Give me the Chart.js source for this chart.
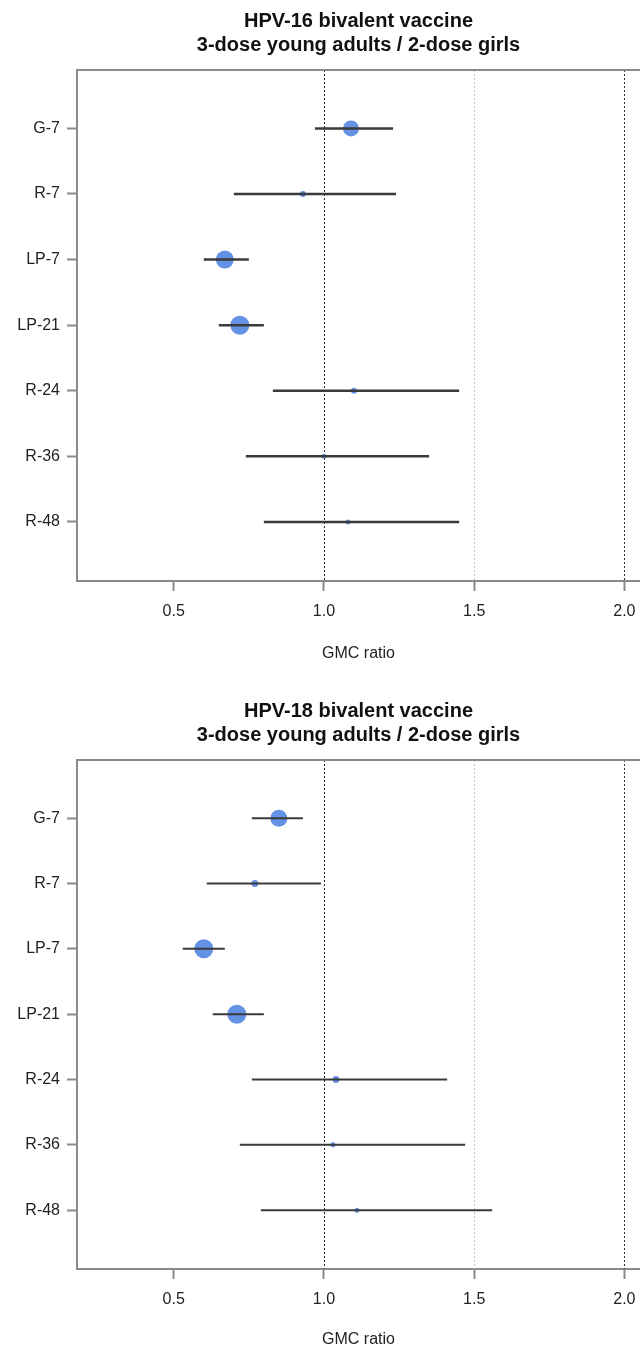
<!DOCTYPE html>
<html>
<head>
<meta charset="utf-8">
<script src="https://cdn.jsdelivr.net/npm/chart.js@4"></script>
<style>
  body { margin: 0; background: #fff; }
  canvas { display: block; }
</style>
</head>
<body>
<canvas id="hpv16Chart" width="640" height="680"></canvas>
<canvas id="hpv18Chart" width="640" height="669"></canvas>
<script>
const CATEGORIES = ["G-7", "R-7", "LP-7", "LP-21", "R-24", "R-36", "R-48"];
const X_TICKS = [0.5, 1.0, 1.5, 2.0];
const REF_LINES = [1.0, 1.5, 2.0];

// GMC ratio with 95% CI
const hpv16Ratio = [1.09, 0.93, 0.67, 0.72, 1.10, 1.00, 1.08];
const hpv16Lower = [0.97, 0.70, 0.60, 0.65, 0.83, 0.74, 0.80];
const hpv16Upper = [1.23, 1.24, 0.75, 0.80, 1.45, 1.35, 1.45];

const hpv18Ratio = [0.85, 0.77, 0.60, 0.71, 1.04, 1.03, 1.11];
const hpv18Lower = [0.76, 0.61, 0.53, 0.63, 0.76, 0.72, 0.79];
const hpv18Upper = [0.93, 0.99, 0.67, 0.80, 1.41, 1.47, 1.56];

// marker radius (study weight) in px
const hpv16Radius = [8, 3, 9, 9.5, 3, 2.5, 2.5];
const hpv18Radius = [8.5, 3.5, 9.5, 9.5, 3.5, 2.5, 2.5];

const AXIS_GRAY = "#8a8a8a";
const REF_COLORS = ["#222", "#c4c4c4", "#333"];

Chart.defaults.font.family = "'Liberation Sans', Arial, sans-serif";
Chart.defaults.color = "#222";

const frameAndRefLines = {
  id: "frameAndRefLines",
  beforeDatasetsDraw(chart) {
    const { ctx, chartArea, scales } = chart;
    ctx.save();
    ctx.lineWidth = 1;
    ctx.setLineDash([2, 2]);
    REF_LINES.forEach((v, i) => {
      const px = Math.round(scales.x.getPixelForValue(v)) + 0.5;
      ctx.strokeStyle = REF_COLORS[i];
      ctx.beginPath();
      ctx.moveTo(px, chartArea.top);
      ctx.lineTo(px, chartArea.bottom);
      ctx.stroke();
    });
    // top edge of the box
    ctx.setLineDash([]);
    ctx.lineWidth = 2;
    ctx.strokeStyle = AXIS_GRAY;
    ctx.beginPath();
    ctx.moveTo(chartArea.left, chartArea.top);
    ctx.lineTo(chartArea.right, chartArea.top);
    ctx.stroke();
    ctx.restore();
  },
};

function renderForest(canvasElem, opts) {
  const ciDatasets = CATEGORIES.map((c, i) => ({
    data: [
      { x: opts.lower[i], y: i },
      { x: opts.upper[i], y: i },
    ],
    showLine: true,
    borderColor: "#3a3a3a",
    borderWidth: opts.ciWidth,
    pointRadius: 0,
  }));

  const pointDataset = {
    data: opts.ratio.map((r, i) => ({ x: r, y: i })),
    showLine: false,
    pointRadius: opts.radius,
    pointBackgroundColor: "#6391e4",
    pointBorderColor: "#6391e4",
    pointBorderWidth: 0,
  };

  return new Chart(canvasElem, {
    type: "scatter",
    data: { datasets: [...ciDatasets, pointDataset] },
    options: {
      responsive: false,
      animation: false,
      layout: { padding: 0, autoPadding: false },
      scales: {
        x: {
          type: "linear",
          min: 0.178,
          max: 2.052,
          afterBuildTicks: (scale) => {
            scale.ticks = X_TICKS.map((v) => ({ value: v }));
          },
          afterFit: (scale) => {
            scale.height = opts.xAxisHeight;
            scale.paddingLeft = 0;
            scale.paddingRight = 0;
          },
          ticks: {
            padding: 11,
            font: { size: 16 },
            callback: (v) => v.toFixed(1),
          },
          grid: {
            drawOnChartArea: false,
            tickLength: 10,
            tickColor: AXIS_GRAY,
            tickWidth: 2,
          },
          border: { color: AXIS_GRAY, width: 2 },
          title: {
            display: true,
            text: "GMC ratio",
            font: { size: 16 },
            padding: { top: 0, bottom: opts.xTitleBottom },
          },
        },
        y: {
          type: "linear",
          reverse: true,
          min: -0.89,
          max: 6.9,
          afterBuildTicks: (scale) => {
            scale.ticks = CATEGORIES.map((c, i) => ({ value: i }));
          },
          afterFit: (scale) => {
            scale.width = 77;
            scale.paddingTop = 0;
            scale.paddingBottom = 0;
          },
          ticks: {
            padding: 7,
            font: { size: 16 },
            callback: (v) => CATEGORIES[v],
          },
          grid: {
            drawOnChartArea: false,
            tickLength: 10,
            tickColor: AXIS_GRAY,
            tickWidth: 2,
          },
          border: { color: AXIS_GRAY, width: 2 },
        },
      },
      plugins: {
        legend: { display: false },
        tooltip: { enabled: false },
        title: {
          display: true,
          fullSize: false,
          text: opts.title,
          color: "#111",
          font: { size: 20, weight: "bold", lineHeight: 1.2 },
          padding: opts.titlePadding,
        },
      },
    },
    plugins: [frameAndRefLines],
  });
}

renderForest(document.getElementById("hpv16Chart"), {
  title: ["HPV-16 bivalent vaccine", "3-dose young adults / 2-dose girls"],
  ratio: hpv16Ratio,
  lower: hpv16Lower,
  upper: hpv16Upper,
  radius: hpv16Radius,
  ciWidth: 2.5,
  titlePadding: { top: 9, bottom: 13 },
  xAxisHeight: 99,
  xTitleBottom: 17,
});

renderForest(document.getElementById("hpv18Chart"), {
  title: ["HPV-18 bivalent vaccine", "3-dose young adults / 2-dose girls"],
  ratio: hpv18Ratio,
  lower: hpv18Lower,
  upper: hpv18Upper,
  radius: hpv18Radius,
  ciWidth: 2,
  titlePadding: { top: 19, bottom: 13 },
  xAxisHeight: 80,
  xTitleBottom: 0,
});
</script>
</body>
</html>
